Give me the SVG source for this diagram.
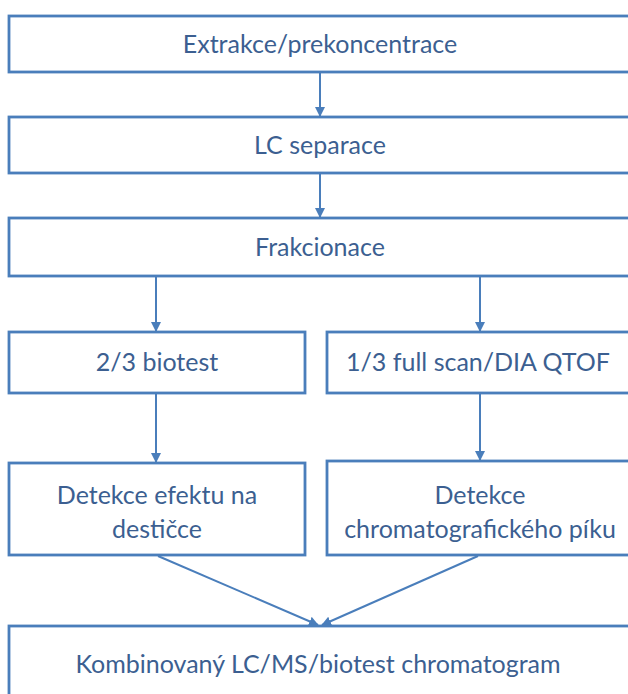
<svg xmlns="http://www.w3.org/2000/svg" width="628" height="694" viewBox="0 0 628 694">
<defs>
<style>
.box{fill:#ffffff;stroke:#4a7ebb;stroke-width:2.8}
.t{font-family:Lato,"Open Sans","Liberation Sans",sans-serif;font-size:25px;fill:#3c5f91;text-anchor:middle}
.c{stroke:#4a7ebb;stroke-width:2;fill:none;marker-end:url(#ah)}
</style>
<marker id="ah" viewBox="0 0 10 10" refX="9" refY="5" markerWidth="5" markerHeight="5" orient="auto" markerUnits="strokeWidth">
<path d="M0,0 L10,5 L0,10 z" fill="#4a7ebb"/>
</marker>
</defs>
<rect width="628" height="694" fill="#ffffff"/>
<g id="connectors">
<line class="c" x1="320" y1="72" x2="320" y2="116"/>
<line class="c" x1="320" y1="173" x2="320" y2="217"/>
<line class="c" x1="156" y1="277" x2="156" y2="331"/>
<line class="c" x1="480" y1="277" x2="480" y2="331"/>
<line class="c" x1="156" y1="394" x2="156" y2="462"/>
<line class="c" x1="480" y1="394" x2="480" y2="460"/>
<line class="c" x1="158" y1="556" x2="318" y2="625"/>
<line class="c" x1="478" y1="556" x2="322" y2="625"/>
</g>
<g id="n1"><rect class="box" x="9" y="16" width="630" height="56"/><text class="t" x="320" y="53">Extrakce/prekoncentrace</text></g>
<g id="n2"><rect class="box" x="9" y="117" width="630" height="56"/><text class="t" x="320" y="154">LC separace</text></g>
<g id="n3"><rect class="box" x="9" y="218" width="630" height="58"/><text class="t" x="320" y="256">Frakcionace</text></g>
<g id="n4"><rect class="box" x="9" y="332" width="296" height="61"/><text class="t" x="157" y="371">2/3 biotest</text></g>
<g id="n5"><rect class="box" x="327" y="332" width="312" height="61"/><text class="t" x="478" y="371">1/3 full scan/DIA QTOF</text></g>
<g id="n6"><rect class="box" x="9" y="463" width="296" height="92"/><text class="t" x="157" y="504">Detekce efektu na</text><text class="t" x="157" y="538">destičce</text></g>
<g id="n7"><rect class="box" x="327" y="461" width="312" height="94"/><text class="t" x="480" y="504">Detekce</text><text class="t" x="480" y="538">chromatografického píku</text></g>
<g id="n8"><rect class="box" x="9" y="626" width="630" height="80"/><text class="t" x="318" y="673">Kombinovaný LC/MS/biotest chromatogram</text></g>
</svg>
